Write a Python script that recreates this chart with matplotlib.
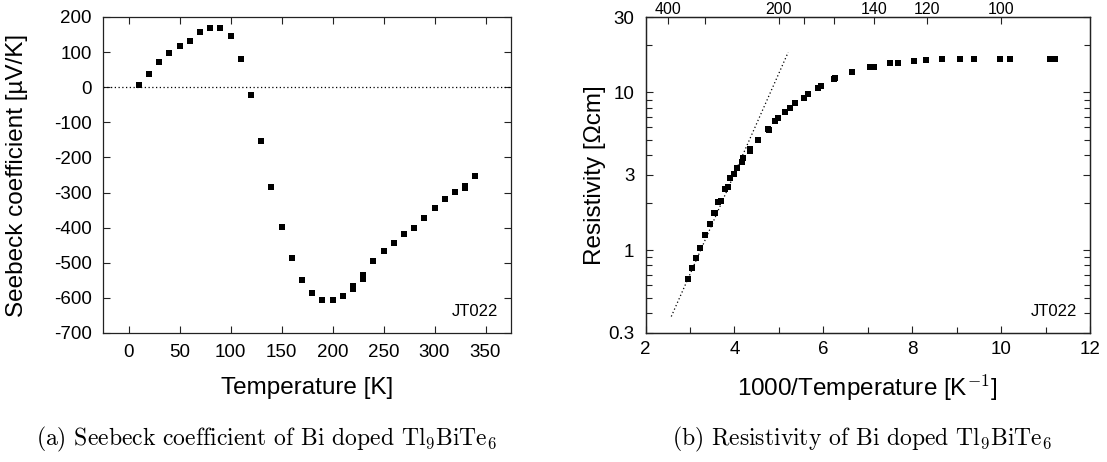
import matplotlib
matplotlib.use("Agg")
import matplotlib.pyplot as plt
from matplotlib.ticker import FixedLocator, NullFormatter

plt.rcParams['font.family'] = ['Liberation Sans', 'DejaVu Sans']
plt.rcParams['mathtext.fontset'] = 'cm'
plt.rcParams['axes.unicode_minus'] = False

# (a) Seebeck coefficient vs temperature
seebeck_T = [10, 20, 30, 40, 50, 60, 70, 80, 90, 100, 110, 120, 130, 140, 150, 160,
             170, 180, 190, 200, 210, 220, 220, 230, 230, 240, 250, 260, 270, 280,
             290, 300, 310, 320, 330, 330, 340]
seebeck_S = [6, 38, 72, 98, 116, 133, 158, 169, 169, 145, 80, -22, -152, -285, -399,
             -487, -550, -587, -606, -606, -594, -566, -576, -535, -546, -496, -467,
             -444, -418, -400, -372, -343, -318, -299, -280, -288, -253]

# (b) resistivity vs 1000/T
inv_T = [2.95, 3.04, 3.14, 3.22, 3.33, 3.45, 3.54, 3.56, 3.64, 3.69, 3.79, 3.85, 3.91,
         4.00, 4.05, 4.17, 4.19, 4.35, 4.36, 4.54, 4.75, 4.78, 4.92, 4.99, 5.14, 5.25,
         5.37, 5.56, 5.65, 5.89, 5.95, 6.25, 6.27, 6.65, 7.04, 7.15, 7.51, 7.68, 8.05,
         8.32, 8.66, 9.08, 9.38, 9.98, 10.21, 11.10, 11.22]
rho = [0.656, 0.766, 0.895, 1.035, 1.25, 1.46, 1.71, 1.73, 2.01, 2.05, 2.44, 2.50, 2.88,
       3.03, 3.33, 3.60, 3.85, 4.38, 4.27, 4.97, 5.83, 5.78, 6.59, 6.85, 7.55, 8.00,
       8.61, 9.26, 9.77, 10.7, 11.0, 12.2, 12.4, 13.5, 14.6, 14.6, 15.4, 15.4, 15.8,
       16.1, 16.3, 16.3, 16.3, 16.3, 16.3, 16.3, 16.3]
fit_x = [2.58, 5.21]
fit_rho = [0.379, 18.0]

top_T = [400, 300, 200, 180, 160, 140, 120, 100]
top_labels = ['400', '', '200', '', '', '140', '120', '100']

W, H = 1107, 462
fig = plt.figure(figsize=(W / 100, H / 100), dpi=100)
ax1 = fig.add_axes([103 / W, 1 - 333 / H, 408 / W, 316 / H])
ax2 = fig.add_axes([645.5 / W, 1 - 332.5 / H, 444.5 / W, 315.2 / H])

tick_kw = dict(direction='in', length=5, width=0.8, labelsize=13.5, color='#222222')

# --- left panel
ax1.plot(seebeck_T, seebeck_S, 's', color='black', ms=5, mew=0)
ax1.axhline(0, ls=(0, (1, 2)), color='black', lw=0.9)
ax1.set_xlim(-25, 375)
ax1.set_ylim(-700, 200)
ax1.set_xticks(range(0, 351, 50))
ax1.set_yticks(range(-700, 201, 100))
ax1.tick_params(top=True, right=True, **tick_kw)
ax1.tick_params(axis='y', pad=8)
ax1.tick_params(axis='x', pad=8)
ax1.set_xlabel('Temperature [K]', fontsize=17.5)
ax1.set_ylabel('Seebeck coefficient [µV/K]', fontsize=17.5)
ax1.xaxis.label.set_va('center')
ax1.yaxis.label.set_va('center')
ax1.xaxis.set_label_coords(0.5, -0.174)
ax1.yaxis.set_label_coords(-0.21, 0.5)
ax1.text(0.968, 0.067, 'JT022', transform=ax1.transAxes, ha='right', va='center',
         fontsize=12)

# --- right panel
ax2.plot(fit_x, fit_rho, ls=(0, (1, 2)), color='black', lw=0.9)
ax2.plot(inv_T, rho, 's', color='black', ms=5, mew=0)
ax2.set_yscale('log')
ax2.set_xlim(2, 12)
ax2.set_ylim(0.3, 30)
ax2.xaxis.set_major_locator(FixedLocator(range(2, 13, 2)))
ax2.xaxis.set_minor_locator(FixedLocator(range(3, 12, 2)))
ax2.yaxis.set_major_locator(FixedLocator([0.3, 1, 3, 10, 30]))
ax2.set_yticklabels(['0.3', '1', '3', '10', '30'])
ax2.yaxis.set_minor_locator(FixedLocator([0.4, 0.5, 0.6, 0.7, 0.8, 0.9, 2, 4, 5, 6, 7,
                                          8, 9, 20]))
ax2.yaxis.set_minor_formatter(NullFormatter())
ax2.tick_params(which='both', top=False, right=True, **tick_kw)
ax2.tick_params(which='minor', length=4)
ax2.tick_params(axis='y', pad=8)
ax2.tick_params(axis='x', pad=6)
ax2.set_xlabel('1000/Temperature [K$^{\\mathsf{-1}}$]', fontsize=17.5)
ax2.set_ylabel('Resistivity [Ωcm]', fontsize=17.5)
ax2.xaxis.label.set_va('center')
ax2.yaxis.label.set_va('center')
ax2.xaxis.set_label_coords(0.5, -0.177)
ax2.yaxis.set_label_coords(-0.114, 0.5)
ax2.text(0.971, 0.068, 'JT022', transform=ax2.transAxes, ha='right', va='center',
         fontsize=12)

# top axis: temperature in K at 1000/T
ax3 = ax2.twiny()
ax3.set_xlim(2, 12)
ax3.set_xticks([1000 / t for t in top_T])
ax3.set_xticklabels(top_labels)
ax3.tick_params(axis='x', direction='in', length=5, width=0.8, labelsize=11.5,
                pad=0.5, color='#222222')

for ax in (ax1, ax2, ax3):
    for s in ax.spines.values():
        s.set_linewidth(0.9)
        s.set_color('#222222')

fig.text(267 / W, 1 - 445 / H, r'(a) Seebeck coefficient of Bi doped Tl$_9$BiTe$_6$',
         family='cmr10', fontsize=17, ha='center', va='baseline')
fig.text(862 / W, 1 - 445 / H, r'(b) Resistivity of Bi doped Tl$_9$BiTe$_6$',
         family='cmr10', fontsize=17, ha='center', va='baseline')

fig.savefig('out.png', dpi=100)
